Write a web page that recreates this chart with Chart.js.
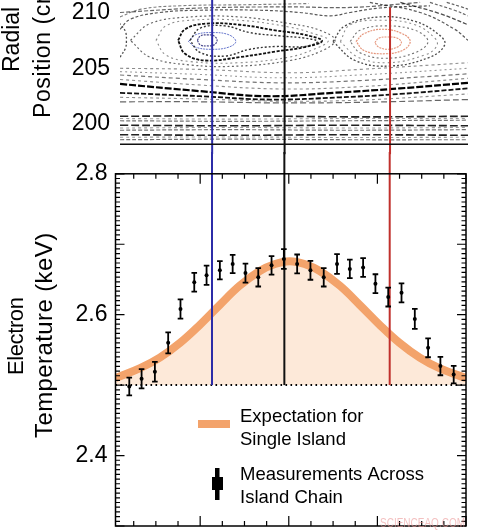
<!DOCTYPE html>
<html>
<head>
<meta charset="utf-8">
<script src="https://cdn.jsdelivr.net/npm/chart.js@4.4.0/dist/chart.umd.min.js"></script>
<style>
  html, body { margin: 0; padding: 0; background: #fff; overflow: hidden; }
  #wrap { position: relative; width: 478px; height: 530px; overflow: hidden; background: #fff; }
  canvas { position: absolute; left: 0; }
  #poincare { top: -88px; }
  #profile { top: 152px; }
</style>
</head>
<body>
<div id="wrap">
  <canvas id="poincare" width="478" height="256"></canvas>
  <canvas id="profile" width="478" height="400"></canvas>
</div>
<script>
// ---- temperature profile (keV) vs toroidal angle (deg) ----
const angle = [-162, -149.5, -136, -122.5, -110, -96, -83.5, -70, -57, -44, -31, -17.5, -5,
  8.5, 22, 35.5, 49, 62, 75.5, 88, 101, 114.5, 128, 141.5, 154, 167.5];
const teMeasured = [2.498, 2.509, 2.519, 2.560, 2.608, 2.646, 2.656, 2.663, 2.672, 2.659, 2.653, 2.670, 2.679,
  2.672, 2.663, 2.653, 2.672, 2.665, 2.667, 2.644, 2.625, 2.631, 2.594, 2.553, 2.527, 2.515];
const teError = [0.0127, 0.0137, 0.0141, 0.0148, 0.0137, 0.0134, 0.0137, 0.013, 0.013, 0.0134, 0.013, 0.0131, 0.0141,
  0.0134, 0.0134, 0.013, 0.0141, 0.0131, 0.0134, 0.0134, 0.0134, 0.0134, 0.0141, 0.0134, 0.013, 0.0124];

const fitAngle = [-176, -151, -131, -110.5, -90, -70, -50, -29.5, -14, 1, 16, 31.5, 52, 72, 92, 112.5, 133, 153, 180];
const teExpected = [2.510, 2.524, 2.539, 2.560, 2.586, 2.614, 2.641, 2.662, 2.672, 2.676, 2.672, 2.662, 2.641,
  2.614, 2.586, 2.560, 2.539, 2.524, 2.510];

const baseline = 2.5;
const tempTicks = [2.4, 2.6, 2.8];
const radiusTicks = [200, 205, 210, 215];

// vertical cuts: blue, black, red
const cutAngles = [-78, -4.5, 102.5];
const cutTopRadius = [217, 217, 210.45];

// ---- Poincare plot traces [angle, radius cm] ----
const islandBlueInner = [[-93,207.5],[-90,207.9],[-83,208.0],[-76,207.9],[-73,207.5],[-76,207.1],[-83,207.0],[-90,207.1],[-93,207.5]];
const islandBlueOuter = [[-102,207.4],[-95,208.0],[-78,208.2],[-61,208.0],[-54,207.4],[-61,206.9],[-78,206.7],[-95,206.9],[-102,207.4]];
const islandRedOuter = [[68,207.4],[76,208.1],[95,208.5],[115,208.1],[123,207.4],[115,206.6],[95,206.3],[76,206.6],[68,207.4]];
const islandRedInner = [[87,207.3],[91,207.7],[100,207.8],[110,207.7],[114,207.3],[110,206.9],[100,206.7],[91,206.9],[87,207.3]];
const surfA = [[-112.6,207.5],[-105.5,208.5],[-85,209.0],[-50,208.9],[-14,208.4],[16,208.0],[33.5,207.45],[16,206.9],[-14,206.5],[-50,206.0],[-85,205.7],[-105.5,206.3],[-112.6,207.5]];
const surfB = [[-100.5,207.5],[-90,208.6],[-65,208.8],[-40,208.2],[-9,207.9],[16,207.7],[29,207.4],[16,206.95],[-14,206.95],[-40,206.7],[-65,206.1],[-90,206.4],[-100.5,207.5]];
const surfG = [[-135,207.5],[-125,208.8],[-100,209.3],[-50,209.3],[0,208.7],[25,208.1],[40,207.5],[25,206.7],[0,206.0],[-50,205.5],[-100,205.6],[-125,206.2],[-135,207.5]];
const surfC = [[-161,207.5],[-141,209.0],[-100.5,209.6],[-50,209.6],[1,209.0],[31.5,208.4],[46.7,207.5],[31.5,206.5],[1,205.7],[-50,205.2],[-100.5,205.3],[-141,206.0],[-161,207.5]];
const surfD = [[44.6,207.4],[56.8,208.8],[92,209.6],[128,209.2],[153,207.95],[158,207.1],[143,206.0],[102.5,205.2],[67,205.7],[44.6,207.4]];
const surfE = [[62,207.4],[72,208.4],[97,208.8],[128,208.4],[141,207.4],[128,206.4],[97,205.9],[72,206.4],[62,207.4]];
const surfF = [[52,207.4],[62,208.9],[95,209.3],[128,208.9],[148,207.7],[150,207.0],[138,206.2],[100,205.5],[70,206.0],[52,207.4]];
const edgeLeft = [[-171.5,206.0],[-166,206.8],[-165,207.5],[-166,208.3],[-171.5,209.0]];
const rim0 = [[-171.5,209.6],[-150,210.3],[-110,210.6],[-40,210.7],[20,210.8]];
const rim1 = [[-171.5,210.0],[-90,210.4],[1,210.5],[62,210.45],[133,210.9]];
const rim2 = [[-171.5,208.5],[-161,209.4],[-131,210.0],[-90,210.2],[-29,210.2],[11,210.0],[42,209.7],[62,210.0],[92,210.4],[143,210.6]];
const rim3 = [[113,210.9],[153,209.9],[181.6,208.9]];
const rim4 = [[143,210.9],[168,210.2],[181.6,209.7]];
const rim5 = [[82,210.9],[133,210.0],[168,208.5],[181.6,207.5]];
const rim6 = [[160,210.9],[175,210.5],[181.6,210.3]];
const band1 = [[-171.5,203.6],[-90,202.95],[-22,202.5],[44.6,202.8],[112.6,203.2],[181.6,203.7]];
const band2 = [[-171.5,202.8],[-90,202.5],[-19,202.2],[51.7,202.4],[112.6,202.7],[181.6,203.2]];
const band3 = [[-171.5,202.0],[-90,202.0],[-9,201.9],[72,201.95],[181.6,202.2]];
const band4 = [[-171.5,204.4],[-90,204.0],[-9,203.7],[72,203.9],[181.6,204.5]];
const band5 = [[-171.5,205.0],[-90,204.9],[1,204.6],[72,204.9],[181.6,205.5]];
const band6 = [[-171.5,204.7],[-90,204.45],[-9,204.15],[72,204.4],[181.6,205.0]];
const band7 = [[-171.5,204.0],[-90,203.5],[-9,203.15],[72,203.35],[181.6,204.1]];
const band8 = [[-171.5,202.4],[-90,202.25],[-9,202.05],[72,202.15],[181.6,202.7]];
const deep1 = [[-171.5,200.7],[-60,200.75],[60,200.65],[181.6,200.7]];
const deep2 = [[-171.5,200.3],[-60,200.25],[60,200.3],[181.6,200.35]];
const deep3 = [[-171.5,199.9],[-60,199.85],[60,199.9],[181.6,199.85]];
const deep4 = [[-171.5,199.45],[-60,199.5],[60,199.45],[181.6,199.5]];
const deep5 = [[-171.5,199.05],[-60,199.0],[60,199.05],[181.6,199.0]];
const deep6 = [[-171.5,198.6],[-60,198.65],[60,198.6],[181.6,198.6]];
const deep7 = [[-171.5,200.5],[-60,200.45],[60,200.5],[181.6,200.5]];
const deep8 = [[-171.5,199.65],[-60,199.7],[60,199.65],[181.6,199.7]];
const deep9 = [[-171.5,198.82],[-60,198.85],[60,198.8],[181.6,198.82]];

const FONT = '"Liberation Sans", Arial, sans-serif';
Chart.defaults.font.family = FONT;
Chart.defaults.color = '#000';

const cutColors = ['#2c2ca8', '#111111', '#c0302c'];
const fitColor = '#f3a36b';
const pts = a => a.map(([x, y]) => ({ x, y }));

function trace(points, color, width, dash) {
  return {
    data: pts(points), showLine: true, borderColor: color, borderWidth: width,
    borderDash: dash, pointRadius: 0, tension: 0.4, fill: false
  };
}

// ---------- top: Poincare plot ----------
const cutsTop = {
  id: 'cutsTop',
  afterDatasetsDraw(chart) {
    const { ctx, chartArea, scales: { x, y } } = chart;
    ctx.save();
    ctx.lineWidth = 2;
    cutAngles.forEach((a, i) => {
      const px = x.getPixelForValue(a);
      ctx.strokeStyle = cutColors[i];
      ctx.beginPath();
      ctx.moveTo(px, chartArea.bottom + 10);
      ctx.lineTo(px, y.getPixelForValue(cutTopRadius[i]));
      ctx.stroke();
    });
    ctx.strokeStyle = '#111';
    ctx.lineWidth = 1.5;
    ctx.beginPath();
    ctx.moveTo(chartArea.left, chartArea.bottom);
    ctx.lineTo(chartArea.right, chartArea.bottom);
    ctx.stroke();

    // axis title, page y offset of this canvas is -88
    const oy = -88;
    ctx.fillStyle = '#000';
    ctx.font = '23px ' + FONT;
    ctx.textAlign = 'left';
    ctx.textBaseline = 'alphabetic';
    [['Radial', 18.5, 72, '0px'], ['Position (cm)', 50, 118, '0.6px']].forEach(([t, bx, by, ls]) => {
      ctx.save();
      ctx.translate(bx, by - oy);
      ctx.rotate(-Math.PI / 2);
      ctx.letterSpacing = ls;
      ctx.fillText(t, 0, 0);
      ctx.restore();
    });
    ctx.restore();
  }
};

new Chart(document.getElementById('poincare'), {
  type: 'scatter',
  data: {
    datasets: [
      trace(rim0, 'rgba(0,0,0,0.5)', 1.1, [3, 2]),
      trace(rim1, 'rgba(0,0,0,0.6)', 1.2, [4, 2]),
      trace(rim2, 'rgba(0,0,0,0.65)', 1.2, [3, 2]),
      trace(rim3, 'rgba(0,0,0,0.7)', 1.3, [4, 2]),
      trace(rim4, 'rgba(0,0,0,0.6)', 1.2, [3, 2]),
      trace(rim5, 'rgba(0,0,0,0.65)', 1.2, [3, 2]),
      trace(rim6, 'rgba(0,0,0,0.6)', 1.2, [3, 2]),
      trace(edgeLeft, 'rgba(0,0,0,0.7)', 1.3, [2, 2]),
      trace(surfC, 'rgba(0,0,0,0.6)', 1.2, [2, 2.5]),
      trace(surfG, 'rgba(0,0,0,0.45)', 1.1, [2, 3]),
      trace(surfA, '#111', 1.8, [3, 1.5]),
      trace(surfB, 'rgba(0,0,0,0.8)', 1.4, [2, 2]),
      trace(surfD, 'rgba(0,0,0,0.7)', 1.3, [2, 2]),
      trace(surfF, 'rgba(0,0,0,0.45)', 1.1, [2, 3]),
      trace(surfE, 'rgba(0,0,0,0.55)', 1.1, [2, 2.5]),
      trace(band5, 'rgba(0,0,0,0.45)', 1.1, [3, 3]),
      trace(band6, 'rgba(0,0,0,0.4)', 1.1, [2, 3]),
      trace(band4, 'rgba(0,0,0,0.55)', 1.2, [4, 3]),
      trace(band7, 'rgba(0,0,0,0.45)', 1.1, [3, 3]),
      trace(band1, '#000', 2.2, [7, 2]),
      trace(band2, '#111', 1.8, [5, 2]),
      trace(band8, 'rgba(0,0,0,0.45)', 1.1, [3, 3]),
      trace(band3, 'rgba(0,0,0,0.6)', 1.2, [6, 3]),
      trace(deep1, '#222', 1.6, [8, 3]),
      trace(deep7, 'rgba(0,0,0,0.4)', 1.1, [3, 3]),
      trace(deep2, 'rgba(0,0,0,0.55)', 1.2, [4, 2]),
      trace(deep3, '#222', 1.6, [8, 3]),
      trace(deep8, 'rgba(0,0,0,0.4)', 1.1, [3, 3]),
      trace(deep4, 'rgba(0,0,0,0.55)', 1.2, [4, 2]),
      trace(deep5, '#222', 1.6, [8, 3]),
      trace(deep9, 'rgba(0,0,0,0.4)', 1.1, [3, 3]),
      trace(deep6, 'rgba(0,0,0,0.55)', 1.2, [4, 2]),
      trace(islandBlueOuter, 'rgba(60,80,190,0.8)', 1, [2, 1]),
      trace(islandBlueInner, 'rgba(40,40,120,0.85)', 1.2, [2, 1]),
      trace(islandRedOuter, 'rgba(225,130,100,0.85)', 1.2, [2, 1]),
      trace(islandRedInner, 'rgba(225,130,100,0.85)', 1.1, [2, 1])
    ]
  },
  options: {
    responsive: false,
    animation: false,
    events: [],
    layout: { padding: { left: 0, right: 10, top: 16, bottom: 16 } },
    plugins: { legend: { display: false }, tooltip: { enabled: false } },
    scales: {
      x: { type: 'linear', min: -171.5, max: 181.6, display: false },
      y: {
        type: 'linear', min: 198.2, max: 216.87,
        grid: { display: false, drawTicks: false },
        border: { display: false },
        ticks: { font: { size: 23 }, color: '#000', padding: 10 },
        afterBuildTicks: s => { s.ticks = radiusTicks.map(v => ({ value: v })); },
        afterFit: s => { s.width = 120; }
      }
    }
  },
  plugins: [cutsTop]
});

// ---------- bottom: electron temperature ----------
const profileDecor = {
  id: 'profileDecor',
  afterDatasetDraw(chart, args) {
    if (args.index !== 1) return;
    const { ctx, scales: { x, y } } = chart;
    const y0 = y.getPixelForValue(baseline);
    ctx.save();
    ctx.lineWidth = 2;
    cutAngles.forEach((a, i) => {
      const px = x.getPixelForValue(a);
      ctx.strokeStyle = cutColors[i];
      ctx.beginPath();
      ctx.moveTo(px, y0);
      ctx.lineTo(px, 0);
      ctx.stroke();
    });
    ctx.restore();
  },
  afterDatasetsDraw(chart) {
    const { ctx, scales: { x, y } } = chart;
    ctx.save();
    ctx.strokeStyle = '#000';
    ctx.lineWidth = 1.8;
    angle.forEach((a, i) => {
      const px = x.getPixelForValue(a);
      const hi = y.getPixelForValue(teMeasured[i] + teError[i]);
      const lo = y.getPixelForValue(teMeasured[i] - teError[i]);
      ctx.beginPath();
      ctx.moveTo(px, hi); ctx.lineTo(px, lo);
      ctx.moveTo(px - 2.8, hi); ctx.lineTo(px + 2.8, hi);
      ctx.moveTo(px - 2.8, lo); ctx.lineTo(px + 2.8, lo);
      ctx.stroke();
    });
    ctx.restore();
  },
  afterDraw(chart) {
    const { ctx, chartArea: { left, right, top, bottom }, scales: { x, y } } = chart;
    const oy = 152;
    ctx.save();
    ctx.strokeStyle = '#000';
    ctx.lineWidth = 1.5;
    ctx.strokeRect(left, top, right - left, bottom - top);

    ctx.lineWidth = 1.2;
    ctx.beginPath();
    for (let k = 0; k <= 75; k++) {
      const py = y.getPixelForValue(2.3 + k * 0.1 / 15);
      const len = k % 15 === 0 ? 9 : 4.5;
      ctx.moveTo(left, py); ctx.lineTo(left + len, py);
      ctx.moveTo(right, py); ctx.lineTo(right - len, py);
    }
    for (let v = -157.5; v <= 180; v += 22.5) {
      const px = x.getPixelForValue(v);
      const len = v % 90 === 0 ? 10 : 5;
      ctx.moveTo(px, bottom); ctx.lineTo(px, bottom - len);
      ctx.moveTo(px, top); ctx.lineTo(px, top + len);
    }
    ctx.stroke();

    // legend
    ctx.fillStyle = fitColor;
    ctx.fillRect(198, 420 - oy, 32, 8);
    ctx.fillStyle = '#000';
    ctx.fillRect(215, 468 - oy, 4.5, 32);
    ctx.fillRect(212, 477 - oy, 11, 13);
    ctx.font = '18.5px ' + FONT;
    ctx.textAlign = 'left';
    ctx.textBaseline = 'alphabetic';
    ctx.fillText('Expectation for', 240, 422 - oy);
    ctx.fillText('Single Island', 240, 445 - oy);
    ctx.fillText('Measurements Across', 240, 480 - oy);
    ctx.fillText('Island Chain', 240, 503 - oy);

    // axis title
    [['Electron', 22, 23, 375, '-0.4px'], ['Temperature (keV)', 24, 51.5, 438, '0.4px']].forEach(([t, fs, bx, by, ls]) => {
      ctx.save();
      ctx.translate(bx, by - oy);
      ctx.rotate(-Math.PI / 2);
      ctx.font = fs + 'px ' + FONT;
      ctx.letterSpacing = ls;
      ctx.fillText(t, 0, 0);
      ctx.restore();
    });

    // watermark
    ctx.save();
    ctx.translate(380, 527 - oy);
    ctx.scale(1, 1.35);
    ctx.font = '10px ' + FONT;
    ctx.fillStyle = 'rgba(235,150,150,0.6)';
    ctx.fillText('SCIENCEAQ.COM', 0, 0);
    ctx.restore();
    ctx.restore();
  }
};

new Chart(document.getElementById('profile'), {
  type: 'scatter',
  data: {
    datasets: [
      {
        label: 'Measurements Across Island Chain',
        data: angle.map((a, i) => ({ x: a, y: teMeasured[i] })),
        pointRadius: 2, pointBackgroundColor: '#000', pointBorderWidth: 0, showLine: false
      },
      {
        label: 'baseline',
        data: [{ x: -176, y: baseline }, { x: 180, y: baseline }],
        showLine: true, pointRadius: 0, borderColor: '#000', borderWidth: 2, borderDash: [1.6, 3.4]
      },
      {
        label: 'Expectation for Single Island',
        data: fitAngle.map((a, i) => ({ x: a, y: teExpected[i] })),
        showLine: true, pointRadius: 0, tension: 0.4, borderColor: fitColor, borderWidth: 8,
        fill: { value: baseline }, backgroundColor: 'rgba(250,200,160,0.4)'
      }
    ]
  },
  options: {
    responsive: false,
    animation: false,
    events: [],
    layout: { padding: { left: 0, right: 12, top: 19, bottom: 26 } },
    plugins: { legend: { display: false }, tooltip: { enabled: false } },
    scales: {
      x: { type: 'linear', min: -176, max: 180, display: false },
      y: {
        type: 'linear', min: 2.3, max: 2.8,
        grid: { display: false, drawTicks: false },
        border: { display: false },
        ticks: { font: { size: 23 }, color: '#000', padding: 8, callback: v => v.toFixed(1) },
        afterBuildTicks: s => { s.ticks = tempTicks.map(v => ({ value: v })); },
        afterFit: s => { s.width = 115.5; }
      }
    }
  },
  plugins: [profileDecor]
});
</script>
</body>
</html>
